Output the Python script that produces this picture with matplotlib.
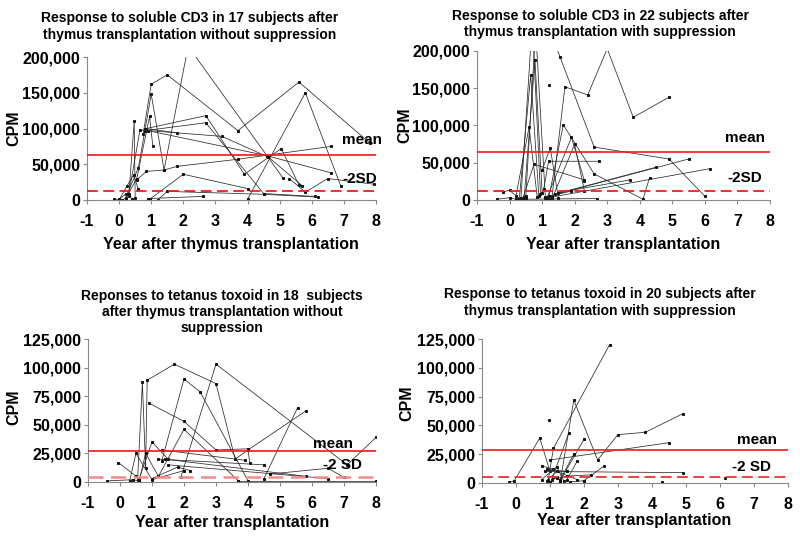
import matplotlib
matplotlib.use('Agg')
import matplotlib.pyplot as plt
from matplotlib.ticker import FuncFormatter

plt.rcParams['font.family'] = ['Liberation Sans', 'DejaVu Sans']
plt.rcParams['font.weight'] = 'bold'
plt.rcParams['axes.unicode_minus'] = False

# CPM values in thousands, one inner list per subject
cd3_nosup_x = [[0.75, 1.0, 1.5, 3.7, 5.6, 7.8], [0.2, 0.6, 1.0, 1.4, 2.15, 5.1],
               [4.0, 5.8, 6.9], [0.85, 2.7, 3.9, 5.05, 5.6], [0.8, 2.7, 4.5, 6.1],
               [0.8, 1.8], [0.9, 4.6, 6.6], [0.55, 0.85, 1.4, 1.8, 3.7, 6.6],
               [0.95, 2.0, 4.0], [0.9, 2.6], [0.1, 0.3, 0.47, 0.5],
               [0.2, 0.55, 0.95, 1.05], [0.3, 0.65, 3.2, 4.65, 5.7],
               [0.0, 0.25, 0.45, 0.6], [-0.15, 0.0, 0.2, 0.4], [1.2, 1.5, 4.5, 6.2],
               [5.3, 5.8, 6.5, 7.95]]
cd3_nosup_y = [[93, 162, 175, 97, 165, 80], [3, 45, 148, 42, 215, 31],
               [1, 150, 20], [100, 118, 36, 72, 21], [97, 108, 9, 5],
               [100, 94], [97, 62, 38], [28, 40, 42, 47, 57, 75],
               [1, 36, 16], [2, 5], [0, 5, 110, 3],
               [2, 30, 117, 75], [8, 98, 89, 60, 20],
               [0, 20, 35, 15], [1, 1, 8, 2], [0, 12, 8, 4],
               [30, 11, 30, 22]]

cd3_sup_x = [[1.35, 1.55, 2.6, 4.9, 6.0], [1.3, 1.7, 2.4, 3.0, 3.8, 4.9], [1.2],
             [1.2, 1.65, 2.6, 4.1, 4.3], [1.15, 1.9, 2.3], [1.3, 2.0, 2.3],
             [1.05, 1.2, 2.75], [0.4, 0.75, 2.3], [1.1, 5.5], [1.3, 6.15],
             [1.4, 4.5], [1.5, 3.7], [0.4, 2.7], [0.3, 0.65, 0.9],
             [0.35, 0.7, 0.95], [0.45, 0.78, 1.0], [0.5, 0.8, 1.1],
             [0.2, 0.6, 0.85], [-0.2, 0.0, 0.3, 0.5], [-0.4, 0.0, 0.2],
             [1.2, 1.9], [1.0, 1.25, 1.5]]
cd3_sup_y = [[215, 192, 71, 55, 5], [3, 152, 141, 203, 111, 138], [154],
             [2, 101, 35, 1, 30], [3, 84, 26], [1, 75, 12],
             [15, 52, 52], [1, 48, 27], [4, 55], [4, 42],
             [8, 44], [10, 27], [1, 2], [2, 168, 5],
             [3, 240, 8], [4, 188, 10], [5, 230, 3],
             [6, 98, 4], [11, 13, 2, 3], [1, 3, 1],
             [5, 12], [40, 70, 3]]

tt_nosup_x = [[0.55, 0.7, 0.8, 0.85, 1.7, 3.0, 3.6, 4.0, 5.8], [1.9, 3.0, 7.1, 8.0],
              [1.3, 2.0, 2.5, 4.0], [0.9, 2.0, 3.0, 4.0, 4.05], [1.2, 2.0, 3.7],
              [0.6, 1.0, 1.5], [4.5, 5.55], [-0.05, 0.5], [1.3, 3.9], [1.2, 4.5],
              [1.4, 5.8], [1.5, 6.5], [4.7, 6.5, 7.0], [3.7, 8.0],
              [0.3, 0.5, 1.0, 2.0], [0.6, 0.8, 1.2], [-0.4, 0.4, 0.6], [1.0, 1.8, 2.2]]
tt_nosup_y = [[2, 87, 12, 89, 103, 86, 20, 28, 62], [4, 103, 15, 39],
              [18, 90, 79, 1], [69, 53, 28, 29, 17], [5, 46, 1],
              [3, 35, 20], [3, 65], [17, 5], [28, 19], [20, 15],
              [20, 5], [15, 3], [7, 12, 4], [1, 1],
              [1, 25, 2, 10], [1, 25, 5], [1, 2, 1], [3, 13, 10]]

tt_sup_x = [[-0.2, -0.05, 0.7, 1.0], [0.95, 1.1, 2.75], [1.3, 1.7, 2.4, 3.0, 3.8, 4.9],
            [0.97], [1.0, 4.5], [1.05, 1.55], [1.3, 2.0], [0.85, 4.9], [1.5, 1.8],
            [2.0, 2.6], [0.75, 1.1], [4.3], [6.15], [0.75, 1.2, 1.4],
            [1.1, 1.3, 1.7], [0.9, 1.2, 1.8], [1.2, 1.5, 2.2], [1.0, 1.2],
            [1.6, 2.0], [0.9, 1.5]]
tt_sup_y = [[0.5, 2, 39, 10], [3, 30, 120], [1, 72, 20, 42, 44, 60],
            [55], [20, 35], [3, 43], [2, 38], [10, 9], [3, 19],
            [2, 15], [15, 12], [1], [4], [3, 14, 2],
            [5, 3, 25], [2, 10, 3], [4, 6, 7], [1, 5],
            [1, 2], [12, 10]]

means = [63000, 64000, 26800, 29000]
minus_2sd = [12000, 12000, 4600, 5000]
ymax = [200000, 200000, 125000, 125000]
ystep = [50000, 50000, 25000, 25000]
titles = ['Response to soluble CD3 in 17 subjects after\nthymus transplantation without suppression',
          'Response to soluble CD3 in 22 subjects after\nthymus transplantation with suppression',
          'Reponses to tetanus toxoid in 18  subjects\nafter thymus transplantation without\nsuppression',
          'Response to tetanus toxoid in 20 subjects after\nthymus transplantation with suppression']
xlabels = ['Year after thymus transplantation', 'Year after transplantation',
           'Year after transplantation', 'Year after transplantation']
sd_labels = ['-2SD', '-2SD', '-2 SD', '-2 SD']

panels = [(cd3_nosup_x, cd3_nosup_y), (cd3_sup_x, cd3_sup_y),
          (tt_nosup_x, tt_nosup_y), (tt_sup_x, tt_sup_y)]

fig = plt.figure(figsize=(8, 5.38), dpi=100)
W, H = 800, 538
# axes boxes in pixels: left, right, top, bottom
boxes = [(87, 376, 57, 200), (477, 770, 51, 200), (88, 376, 339, 482), (482, 788, 339, 483)]
title_pos = [(190, 26.5), (600, 24), (222, 312), (600, 302.5)]
xlabel_pos = [(231, 244), (623, 244), (232, 522), (634, 520)]
ylabel_pos = [(14, 128), (405, 125), (14, 407), (407, 403)]
mean_txt = [(6.94, 0.37), (6.62, 0.37), (6.03, 0.22), (6.5, 0.25)]
sd_txt = [(6.94, 0.10), (6.7, 0.10), (6.34, 0.07), (6.35, 0.06)]
sd_colors = ['#e8201c', '#e8201c', '#f48a8a', '#f03030']

for i, (xs, ys) in enumerate(panels):
    l, r, t, b = boxes[i]
    ax = fig.add_axes([l / W, 1 - b / H, (r - l) / W, (b - t) / H])
    for sx, sy in zip(xs, ys):
        ax.plot(sx, [v * 1000 for v in sy], color='#2a2a2a', lw=0.55,
                marker='s', ms=1.2, mec='#111111', mfc='#111111')
    ax.axhline(means[i], color='#f01818', lw=1.2, zorder=3)
    ax.axhline(minus_2sd[i], color=sd_colors[i], lw=1.3 if i != 2 else 1.8,
               ls=(0, (6, 3)), zorder=3)
    ax.set_xlim(-1, 8)
    ax.set_ylim(0, ymax[i])
    ax.set_xticks(range(-1, 9))
    ax.set_yticks(range(0, ymax[i] + 1, ystep[i]))
    ax.yaxis.set_major_formatter(FuncFormatter(lambda v, p: '{:,.0f}'.format(v)))
    for s in ['top', 'right']:
        ax.spines[s].set_visible(False)
    for s in ['left', 'bottom']:
        ax.spines[s].set_color('#888888')
        ax.spines[s].set_linewidth(0.8)
    ax.tick_params(axis='both', colors='#888888', labelcolor='black', labelsize=11.5,
                   length=3, width=0.8)
    ax.tick_params(axis='x', pad=7)
    ax.tick_params(axis='y', pad=2)
    for lab in ax.get_xticklabels() + ax.get_yticklabels():
        lab.set_fontweight('bold')
    ax.text(mean_txt[i][0], ymax[i] * mean_txt[i][1], 'mean', fontsize=11,
            fontweight='bold', va='bottom', ha='left', clip_on=False)
    ax.text(sd_txt[i][0], ymax[i] * sd_txt[i][1], sd_labels[i], fontsize=11,
            fontweight='bold', va='bottom', ha='left', clip_on=False)
    tx, ty = title_pos[i]
    fig.text(tx / W, 1 - ty / H, titles[i], ha='center', va='center', fontsize=10,
             fontweight='bold', linespacing=1.2)
    lx, ly = xlabel_pos[i]
    fig.text(lx / W, 1 - ly / H, xlabels[i], ha='center', va='center', fontsize=11.5,
             fontweight='bold')
    cx, cy = ylabel_pos[i]
    fig.text(cx / W, 1 - cy / H, 'CPM', ha='center', va='center', rotation=90,
             fontsize=11.5, fontweight='bold')

fig.savefig('out.png', dpi=100)
